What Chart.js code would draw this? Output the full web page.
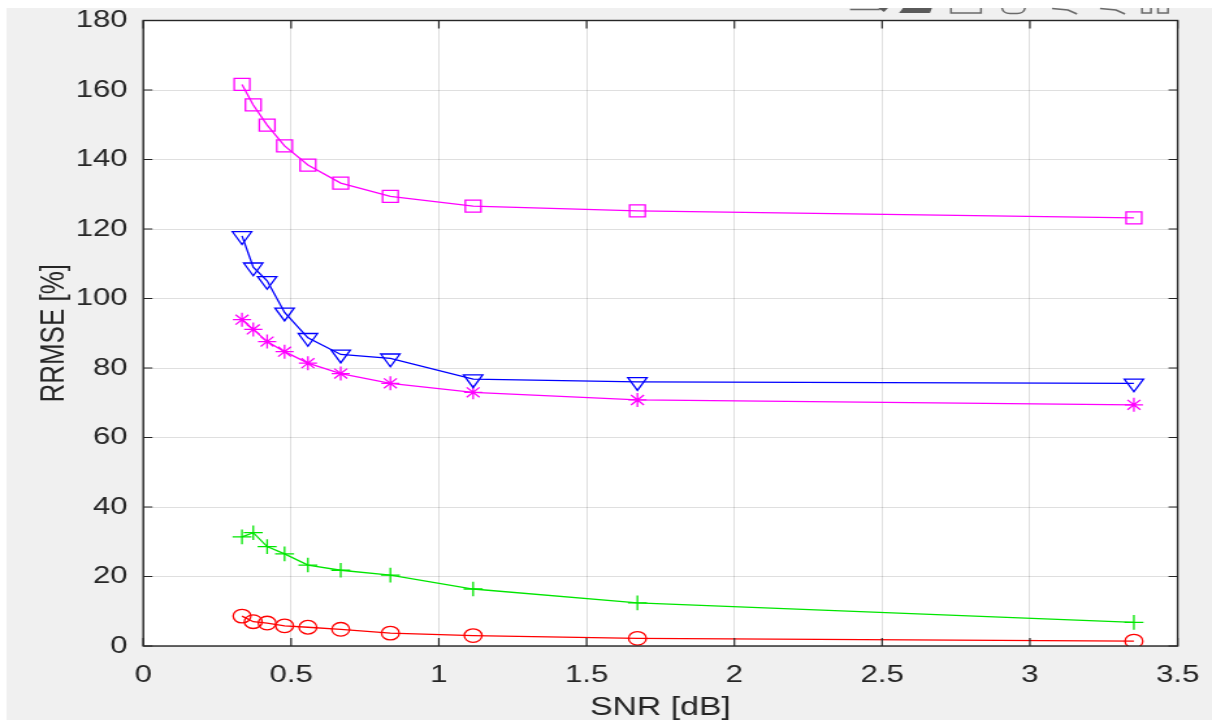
<!DOCTYPE html>
<html>
<head>
<meta charset="utf-8">
<title>RRMSE vs SNR</title>
<script src="https://cdn.jsdelivr.net/npm/chart.js@4.4.1/dist/chart.umd.min.js"></script>
<style>
  html, body { margin: 0; padding: 0; background: #ffffff; overflow: hidden; }
  #wrap { width: 1212px; height: 722px; overflow: hidden; }
  /* the reference figure is stretched sideways, so the canvas is too */
  #chart { display: block; transform: scaleX(1.3004); transform-origin: 0 0; }
</style>
</head>
<body>
<div id="wrap"><canvas id="chart" width="932" height="722"></canvas></div>
<script>
// Data
const snr = [0.334, 0.372, 0.419, 0.478, 0.557, 0.668, 0.836, 1.116, 1.672, 3.352];
const rrmseSquare = [161.6, 155.7, 149.9, 143.9, 138.4, 133.2, 129.4, 126.6, 125.2, 123.2];
const rrmseTriangle = [118.0, 109.0, 105.1, 96.0, 88.7, 83.9, 82.8, 76.8, 76.0, 75.6];
const rrmseStar = [93.9, 91.1, 87.6, 84.7, 81.4, 78.4, 75.6, 73.0, 70.8, 69.4];
const rrmsePlus = [31.4, 32.6, 28.6, 26.5, 23.3, 21.8, 20.4, 16.4, 12.4, 6.8];
const rrmseCircle = [8.6, 7.0, 6.6, 5.8, 5.4, 4.8, 3.7, 3.0, 2.2, 1.4];

const xTicks = [0, 0.5, 1, 1.5, 2, 2.5, 3, 3.5];
const xTickLabels = ['0', '0.5', '1', '1.5', '2', '2.5', '3', '3.5'];
const yTicks = [0, 20, 40, 60, 80, 100, 120, 140, 160, 180];
const yTickLabels = ['0', '20', '40', '60', '80', '100', '120', '140', '160', '180'];

const xTitle = 'SNR [dB]';
const yTitle = 'RRMSE [%]';

const FONT = '"Liberation Sans", Arial, Helvetica, sans-serif';
const INK = '#262626';
const GRID = 'rgba(38,38,38,0.15)';
const SX = 1.3004; // css stretch of the canvas

function toXY(ys) {
    return snr.map((x, i) => ({ x: x, y: ys[i] }));
}

function series(ys, color, style, radius, rotation) {
    return {
        data: toXY(ys),
        borderColor: color,
        borderWidth: 1.3,
        backgroundColor: 'transparent',
        pointStyle: style,
        pointRadius: radius,
        pointRotation: rotation || 0,
        pointBorderColor: color,
        pointBackgroundColor: 'transparent',
        pointBorderWidth: 1.3,
        tension: 0,
        fill: false
    };
}

// keep the plot box where it is in the figure, labels may overhang
function fixBox(size) {
    return s => {
        if (s.isHorizontal()) s.height = size; else s.width = size;
        s.paddingTop = 0;
        s.paddingBottom = 0;
        s.paddingLeft = 0;
        s.paddingRight = 0;
    };
}

// clipped toolbar icons peeking in at the top edge (page px, divided by the stretch)
function drawToolbar(ctx) {
    const p = x => x / SX;
    ctx.save();
    ctx.strokeStyle = '#6a6a6a';
    ctx.fillStyle = '#5a5a5a';
    ctx.lineWidth = 1.5;
    ctx.beginPath();
    ctx.moveTo(p(850), 9.5); ctx.lineTo(p(880), 9.5);
    ctx.stroke();
    ctx.beginPath();
    ctx.moveTo(p(878), 8); ctx.lineTo(p(888), 8); ctx.lineTo(p(884), 12); ctx.closePath();
    ctx.fill();
    ctx.beginPath();
    ctx.moveTo(p(903), 8); ctx.lineTo(p(932), 8); ctx.lineTo(p(930), 13); ctx.lineTo(p(899), 13); ctx.closePath();
    ctx.fill();
    ctx.beginPath();
    ctx.moveTo(p(951), 8); ctx.lineTo(p(951), 13); ctx.lineTo(p(981), 13); ctx.lineTo(p(981), 8);
    ctx.moveTo(p(1002), 8); ctx.quadraticCurveTo(p(1003), 13.5, p(1010), 13.5);
    ctx.lineTo(p(1017), 13.5); ctx.quadraticCurveTo(p(1024), 13.5, p(1025), 8);
    ctx.moveTo(p(1052), 8.5); ctx.lineTo(p(1068), 10); ctx.lineTo(p(1077), 14);
    ctx.moveTo(p(1100), 8.5); ctx.lineTo(p(1116), 10); ctx.lineTo(p(1125), 14);
    ctx.moveTo(p(1142), 8); ctx.lineTo(p(1142), 13); ctx.lineTo(p(1151), 13); ctx.lineTo(p(1151), 8);
    ctx.moveTo(p(1158), 8); ctx.lineTo(p(1158), 13); ctx.lineTo(p(1168), 13); ctx.lineTo(p(1168), 8);
    ctx.stroke();
    ctx.restore();
}

// MATLAB-like figure: grey window, white box, inward ticks, axis titles
const matlabFrame = {
    id: 'matlabFrame',
    beforeDraw(chart) {
        const { ctx, chartArea: ca, width, height } = chart;
        ctx.save();
        ctx.fillStyle = '#ffffff';
        ctx.fillRect(0, 0, width, height);
        ctx.fillStyle = '#f0f0f0';
        ctx.fillRect(5, 8, width - 5, 712);
        ctx.fillStyle = '#ffffff';
        ctx.fillRect(ca.left, ca.top, ca.right - ca.left, ca.bottom - ca.top);
        ctx.restore();
        drawToolbar(ctx);
    },
    afterDraw(chart) {
        const { ctx, chartArea: ca, scales } = chart;
        ctx.save();
        ctx.strokeStyle = INK;
        ctx.lineWidth = 1.4;
        ctx.strokeRect(ca.left, ca.top, ca.right - ca.left, ca.bottom - ca.top);

        ctx.lineWidth = 1.2;
        ctx.beginPath();
        xTicks.forEach(v => {
            const px = scales.x.getPixelForValue(v);
            ctx.moveTo(px, ca.bottom); ctx.lineTo(px, ca.bottom - 8);
            ctx.moveTo(px, ca.top); ctx.lineTo(px, ca.top + 8);
        });
        yTicks.forEach(v => {
            const py = scales.y.getPixelForValue(v);
            ctx.moveTo(ca.left, py); ctx.lineTo(ca.left + 7, py);
            ctx.moveTo(ca.right, py); ctx.lineTo(ca.right - 7, py);
        });
        ctx.stroke();

        ctx.fillStyle = INK;
        ctx.font = '26px ' + FONT;
        ctx.textAlign = 'center';
        ctx.textBaseline = 'middle';
        ctx.fillText(xTitle, (ca.left + ca.right) / 2, 708);
        ctx.translate(42, (ca.top + ca.bottom) / 2);
        ctx.rotate(-Math.PI / 2);
        ctx.fillText(yTitle, 0, 0);
        ctx.restore();
    }
};

new Chart(document.getElementById('chart'), {
    type: 'line',
    data: {
        datasets: [
            series(rrmseSquare, '#ff00ff', 'rect', 8.5),
            series(rrmseTriangle, '#0000ff', 'triangle', 8.5, 180),
            series(rrmseStar, '#ff00ff', 'star', 7),
            series(rrmsePlus, '#00e600', 'cross', 7.3),
            series(rrmseCircle, '#ff0000', 'circle', 6.8)
        ]
    },
    options: {
        responsive: false,
        animation: false,
        devicePixelRatio: 1,
        layout: { padding: { top: 20.5, right: 26.4, bottom: 0, left: 0 } },
        plugins: { legend: { display: false }, tooltip: { enabled: false } },
        scales: {
            x: {
                type: 'linear',
                min: 0,
                max: 3.5,
                afterBuildTicks: s => { s.ticks = xTicks.map(v => ({ value: v })); },
                afterFit: fixBox(76),
                grid: { color: GRID, lineWidth: 1, drawTicks: false },
                border: { display: false },
                ticks: {
                    autoSkip: false,
                    maxRotation: 0,
                    padding: 15,
                    color: INK,
                    font: { family: FONT, size: 24 },
                    callback: (v, i) => xTickLabels[i]
                }
            },
            y: {
                type: 'linear',
                min: 0,
                max: 180,
                afterBuildTicks: s => { s.ticks = yTicks.map(v => ({ value: v })); },
                afterFit: fixBox(110.2),
                grid: { color: GRID, lineWidth: 1, drawTicks: false },
                border: { display: false },
                ticks: {
                    autoSkip: false,
                    padding: 12,
                    color: INK,
                    font: { family: FONT, size: 24 },
                    callback: (v, i) => yTickLabels[i]
                }
            }
        }
    },
    plugins: [matlabFrame]
});
</script>
</body>
</html>
